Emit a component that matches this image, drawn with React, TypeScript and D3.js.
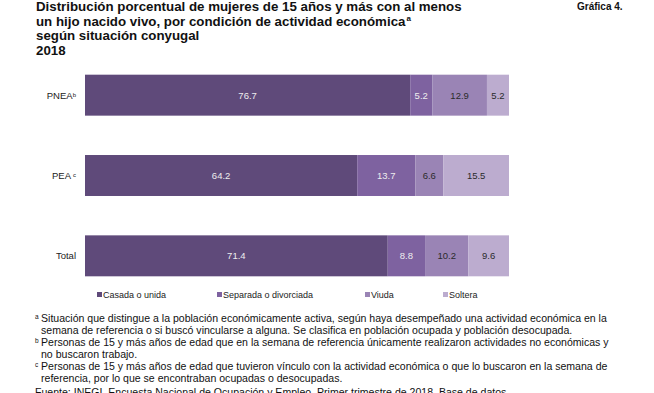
import React, { useEffect, useRef } from 'react';
import * as d3 from 'd3';

// data
const categories = ['PNEA', 'PEA', 'Total'];
const categoryNotes = ['b', 'c', ''];
const seriesNames = ['Casada o unida', 'Separada o divorciada', 'Viuda', 'Soltera'];
const casada = [76.7, 64.2, 71.4];
const separada = [5.2, 13.7, 8.8];
const viuda = [12.9, 6.6, 10.2];
const soltera = [5.2, 15.5, 9.6];
const colors = ['#5f4a7a', '#7e62a0', '#9a84b5', '#bcaccf'];
const labelColors = ['#eeeeee', '#eeeeee', '#2b2b2b', '#2b2b2b'];

const titleLines = [
  'Distribución porcentual de mujeres de 15 años y más con al menos',
  'un hijo nacido vivo, por condición de actividad económica',
  'según situación conyugal',
  '2018',
];

const notes = [
  ['a', 'Situación que distingue a la población económicamente activa, según haya desempeñado una actividad económica en la'],
  ['', 'semana de referencia o si buscó vincularse a alguna. Se clasifica en población ocupada y población desocupada.'],
  ['b', 'Personas de 15 y más años de edad que en la semana de referencia únicamente realizaron actividades no económicas y'],
  ['', 'no buscaron trabajo.'],
  ['c', 'Personas de 15 y más años de edad que tuvieron vínculo con la actividad económica o que lo buscaron en la semana de'],
  ['', 'referencia, por lo que se encontraban ocupadas o desocupadas.'],
  ['', 'Fuente: INEGI. Encuesta Nacional de Ocupación y Empleo. Primer trimestre de 2018. Base de datos.'],
];

const width = 654;
const height = 393;

function App() {
  const svgRef = useRef(null);

  useEffect(() => {
    const svg = d3.select(svgRef.current);
    svg.selectAll('*').remove();
    const font = 'Liberation Sans, Arial, sans-serif';

    // title
    const title = svg.append('g').attr('font-family', font).attr('font-weight', 'bold').attr('fill', '#111');
    titleLines.forEach((t, i) => {
      const txt = title.append('text')
        .attr('x', 36)
        .attr('y', 11 + i * 14.6)
        .attr('font-size', 13.3)
        .text(t);
      if (i === 1) {
        txt.append('tspan').attr('font-size', 8).attr('dy', -5).attr('dx', 1).text('a');
      }
    });
    svg.append('text')
      .attr('x', 577).attr('y', 10)
      .attr('font-family', font).attr('font-weight', 'bold').attr('font-size', 10)
      .attr('fill', '#111')
      .text('Gráfica 4.');

    // scales
    const x = d3.scaleLinear().domain([0, 100]).range([85, 509]);
    const y = d3.scaleBand().domain(categories).range([55, 296]).paddingInner(0.49).paddingOuter(0.245);

    const rows = categories.map((c, i) => ({
      cat: c,
      values: [casada[i], separada[i], viuda[i], soltera[i]],
    }));
    const stack = d3.stack().keys([0, 1, 2, 3]).value((d, k) => d.values[k]);
    const series = stack(rows);

    const bars = svg.append('g');
    series.forEach((s, si) => {
      const g = bars.append('g').attr('fill', colors[si]);
      g.selectAll('rect').data(s).join('rect')
        .attr('x', d => x(d[0]))
        .attr('y', d => y(d.data.cat))
        .attr('width', d => x(d[1]) - x(d[0]))
        .attr('height', y.bandwidth());
      bars.append('g').selectAll('text').data(s).join('text')
        .attr('x', d => (x(d[0]) + x(d[1])) / 2)
        .attr('y', d => y(d.data.cat) + y.bandwidth() / 2 + 3.5)
        .attr('text-anchor', 'middle')
        .attr('font-family', font).attr('font-size', 9.5)
        .attr('fill', labelColors[si])
        .text(d => d3.format('.1f')(d[1] - d[0]));
    });

    // category axis labels
    const yl = svg.append('g').attr('font-family', font).attr('fill', '#222');
    categories.forEach((c, i) => {
      const t = yl.append('text')
        .attr('x', 76)
        .attr('y', y(c) + y.bandwidth() / 2 + 3.5)
        .attr('text-anchor', 'end')
        .attr('font-size', 9.5)
        .text(c);
      if (categoryNotes[i]) {
        t.append('tspan').attr('font-size', 6).attr('dy', -2).attr('dx', i === 1 ? 2 : 0).text(categoryNotes[i]);
      }
    });

    // legend
    const legendX = [97, 217, 365, 443];
    const legend = svg.append('g').attr('font-family', font).attr('font-size', 9);
    seriesNames.forEach((n, i) => {
      legend.append('rect').attr('x', legendX[i]).attr('y', 292).attr('width', 5).attr('height', 5).attr('fill', colors[i]);
      legend.append('text').attr('x', legendX[i] + 6).attr('y', 298).attr('fill', '#222').text(n);
    });

    // footnotes
    const fn = svg.append('g').attr('font-family', font).attr('font-size', 10.55).attr('fill', '#111');
    notes.forEach(([mark, text], i) => {
      const yy = 322 + i * 12;
      if (mark) {
        fn.append('text').attr('x', 35).attr('y', yy - 3).attr('font-size', 6.5).text(mark);
      }
      fn.append('text').attr('x', i === 6 ? 35 : 41).attr('y', yy + (i === 6 ? 1.5 : 0)).text(text);
    });
  }, []);

  return (
    <svg ref={svgRef} width={width} height={height}
      style={{ position: 'absolute', left: 0, top: 0, background: '#fff' }} />
  );
}

export default App;
